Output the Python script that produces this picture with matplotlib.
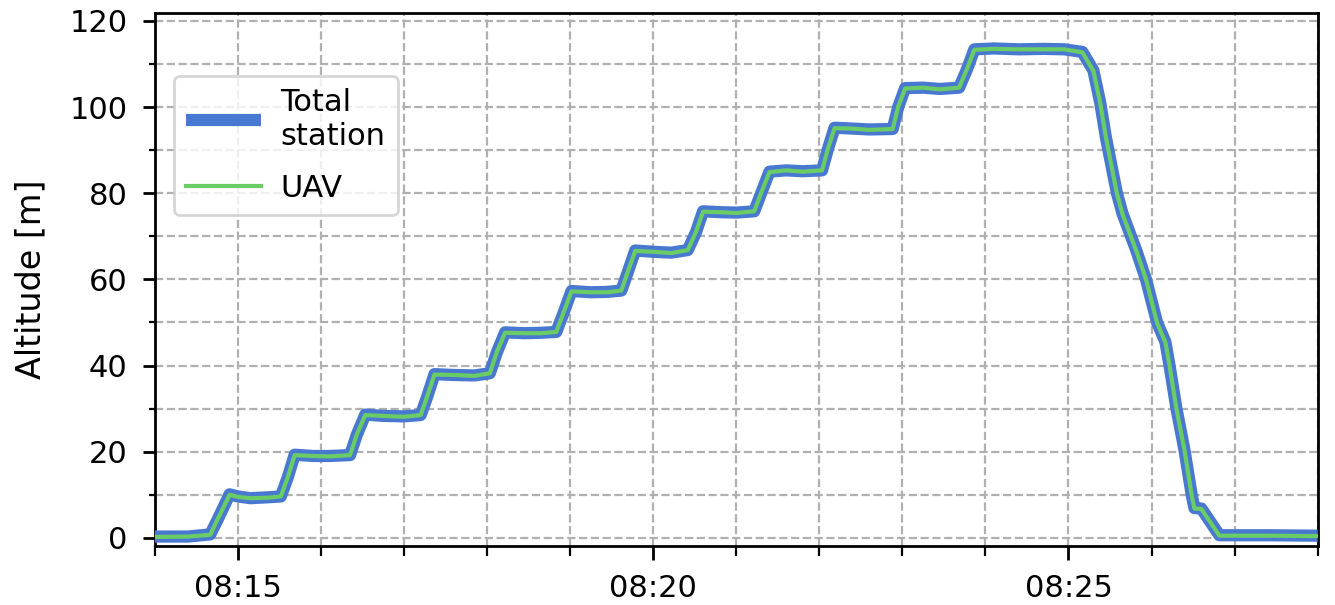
import pandas as pd
import matplotlib
matplotlib.use("Agg")
import matplotlib.pyplot as plt
import matplotlib.dates as mdates
from matplotlib.ticker import MultipleLocator

plt.rcParams["font.family"] = "DejaVu Sans"
plt.rcParams["font.size"] = 11

# time of day and altitude in metres
times = ["08:14:00", "08:14:24", "08:14:40", "08:14:45", "08:14:54", "08:15:00",
         "08:15:09", "08:15:21", "08:15:31", "08:15:36", "08:15:41", "08:15:54",
         "08:16:06", "08:16:21", "08:16:26", "08:16:32", "08:16:45", "08:17:00",
         "08:17:12", "08:17:17", "08:17:22", "08:17:36", "08:17:51", "08:18:02",
         "08:18:07", "08:18:13", "08:18:27", "08:18:39", "08:18:50", "08:18:55",
         "08:19:01", "08:19:15", "08:19:27", "08:19:37", "08:19:42", "08:19:47",
         "08:20:00", "08:20:13", "08:20:25", "08:20:31", "08:20:36", "08:20:48",
         "08:21:00", "08:21:13", "08:21:18", "08:21:24", "08:21:36", "08:21:48",
         "08:22:02", "08:22:06", "08:22:11", "08:22:24", "08:22:36", "08:22:53",
         "08:22:57", "08:23:02", "08:23:15", "08:23:27", "08:23:41", "08:23:47",
         "08:23:52", "08:24:06", "08:24:24", "08:24:42", "08:24:57", "08:25:10",
         "08:25:18", "08:25:23", "08:25:27", "08:25:35", "08:25:39", "08:25:49",
         "08:25:56", "08:26:04", "08:26:10", "08:26:13", "08:26:18", "08:26:22",
         "08:26:24", "08:26:29", "08:26:31", "08:26:36", "08:26:49", "08:27:24",
         "08:28:00"]
total_station = [0.3, 0.3, 0.8, 4.0, 10.1, 9.6,
                 9.2, 9.4, 9.6, 14.0, 19.3, 19.0,
                 19.0, 19.2, 24.0, 28.6, 28.3, 28.2,
                 28.5, 33.0, 38.0, 37.8, 37.7, 38.2,
                 43.0, 47.7, 47.5, 47.6, 47.8, 52.0,
                 57.3, 57.0, 57.1, 57.4, 62.0, 66.7,
                 66.4, 66.2, 66.8, 71.0, 75.8, 75.6,
                 75.5, 75.8, 80.0, 85.0, 85.3, 85.1,
                 85.3, 90.0, 95.2, 95.0, 94.8, 94.9,
                 100.0, 104.4, 104.5, 104.2, 104.5, 109.0,
                 113.4, 113.6, 113.4, 113.5, 113.4, 112.8,
                 108.5, 100.9, 93.0, 80.0, 75.3, 66.7,
                 60.0, 50.0, 45.5, 40.0, 30.0, 23.4,
                 20.0, 10.0, 6.9, 6.8, 0.6, 0.6,
                 0.5]
uav = [0.2, 0.3, 0.7, 4.1, 10.0, 9.5,
       9.2, 9.3, 9.6, 14.1, 19.2, 19.0,
       18.9, 19.2, 24.1, 28.5, 28.3, 28.1,
       28.5, 33.1, 37.9, 37.8, 37.6, 38.2,
       43.1, 47.6, 47.5, 47.5, 47.8, 52.1,
       57.2, 57.0, 57.0, 57.4, 62.1, 66.6,
       66.4, 66.1, 66.8, 71.1, 75.7, 75.6,
       75.4, 75.8, 80.1, 84.9, 85.3, 85.0,
       85.3, 90.1, 95.1, 95.0, 94.7, 94.9,
       100.1, 104.3, 104.5, 104.1, 104.5, 109.1,
       113.3, 113.5, 113.4, 113.4, 113.4, 112.7,
       108.4, 100.8, 93.0, 79.9, 75.2, 66.6,
       60.0, 49.9, 45.4, 40.0, 29.9, 23.3,
       20.0, 9.9, 6.8, 6.7, 0.5, 0.5,
       0.4]

t = pd.to_datetime(["2000-01-01 " + s for s in times])

fig, ax = plt.subplots(figsize=(6.675, 3.025), dpi=200)
fig.subplots_adjust(left=0.116, right=0.987, top=0.979, bottom=0.0975)

ax.plot(t, total_station, color="#4878d0", lw=4.4, label="Total\nstation",
        solid_joinstyle="round", solid_capstyle="butt", zorder=3)
ax.plot(t, uav, color="#6acc64", lw=1.5, label="UAV", zorder=4)

ax.set_xlim(pd.Timestamp("2000-01-01 08:14:00"), pd.Timestamp("2000-01-01 08:28:00"))
ax.set_ylim(-1.9, 121.9)

ax.xaxis.set_major_locator(mdates.MinuteLocator(byminute=range(0, 60, 5)))
ax.xaxis.set_minor_locator(mdates.MinuteLocator())
ax.xaxis.set_major_formatter(mdates.DateFormatter("%H:%M"))
ax.yaxis.set_major_locator(MultipleLocator(20))
ax.yaxis.set_minor_locator(MultipleLocator(10))

ax.tick_params(axis="x", which="major", length=5, width=1, pad=5)
ax.tick_params(axis="x", which="minor", length=3.5, width=0.8)
ax.tick_params(axis="y", which="major", length=4.4, width=1, pad=5.5)
ax.tick_params(axis="y", which="minor", length=2, width=0.8)
for sp in ax.spines.values():
    sp.set_linewidth(1.0)

ax.grid(True, which="both", ls="--", color="#b0b0b0", lw=0.8)
ax.set_axisbelow(True)
ax.set_ylabel("Altitude [m]", fontsize=12, labelpad=8)

leg = ax.legend(loc="upper left", bbox_to_anchor=(0.003, 0.91), handlelength=2.45,
                handletextpad=0.65, labelspacing=0.75, framealpha=0.8)
leg.get_frame().set_linewidth(1.0)

fig.savefig("out.png", dpi=200)
